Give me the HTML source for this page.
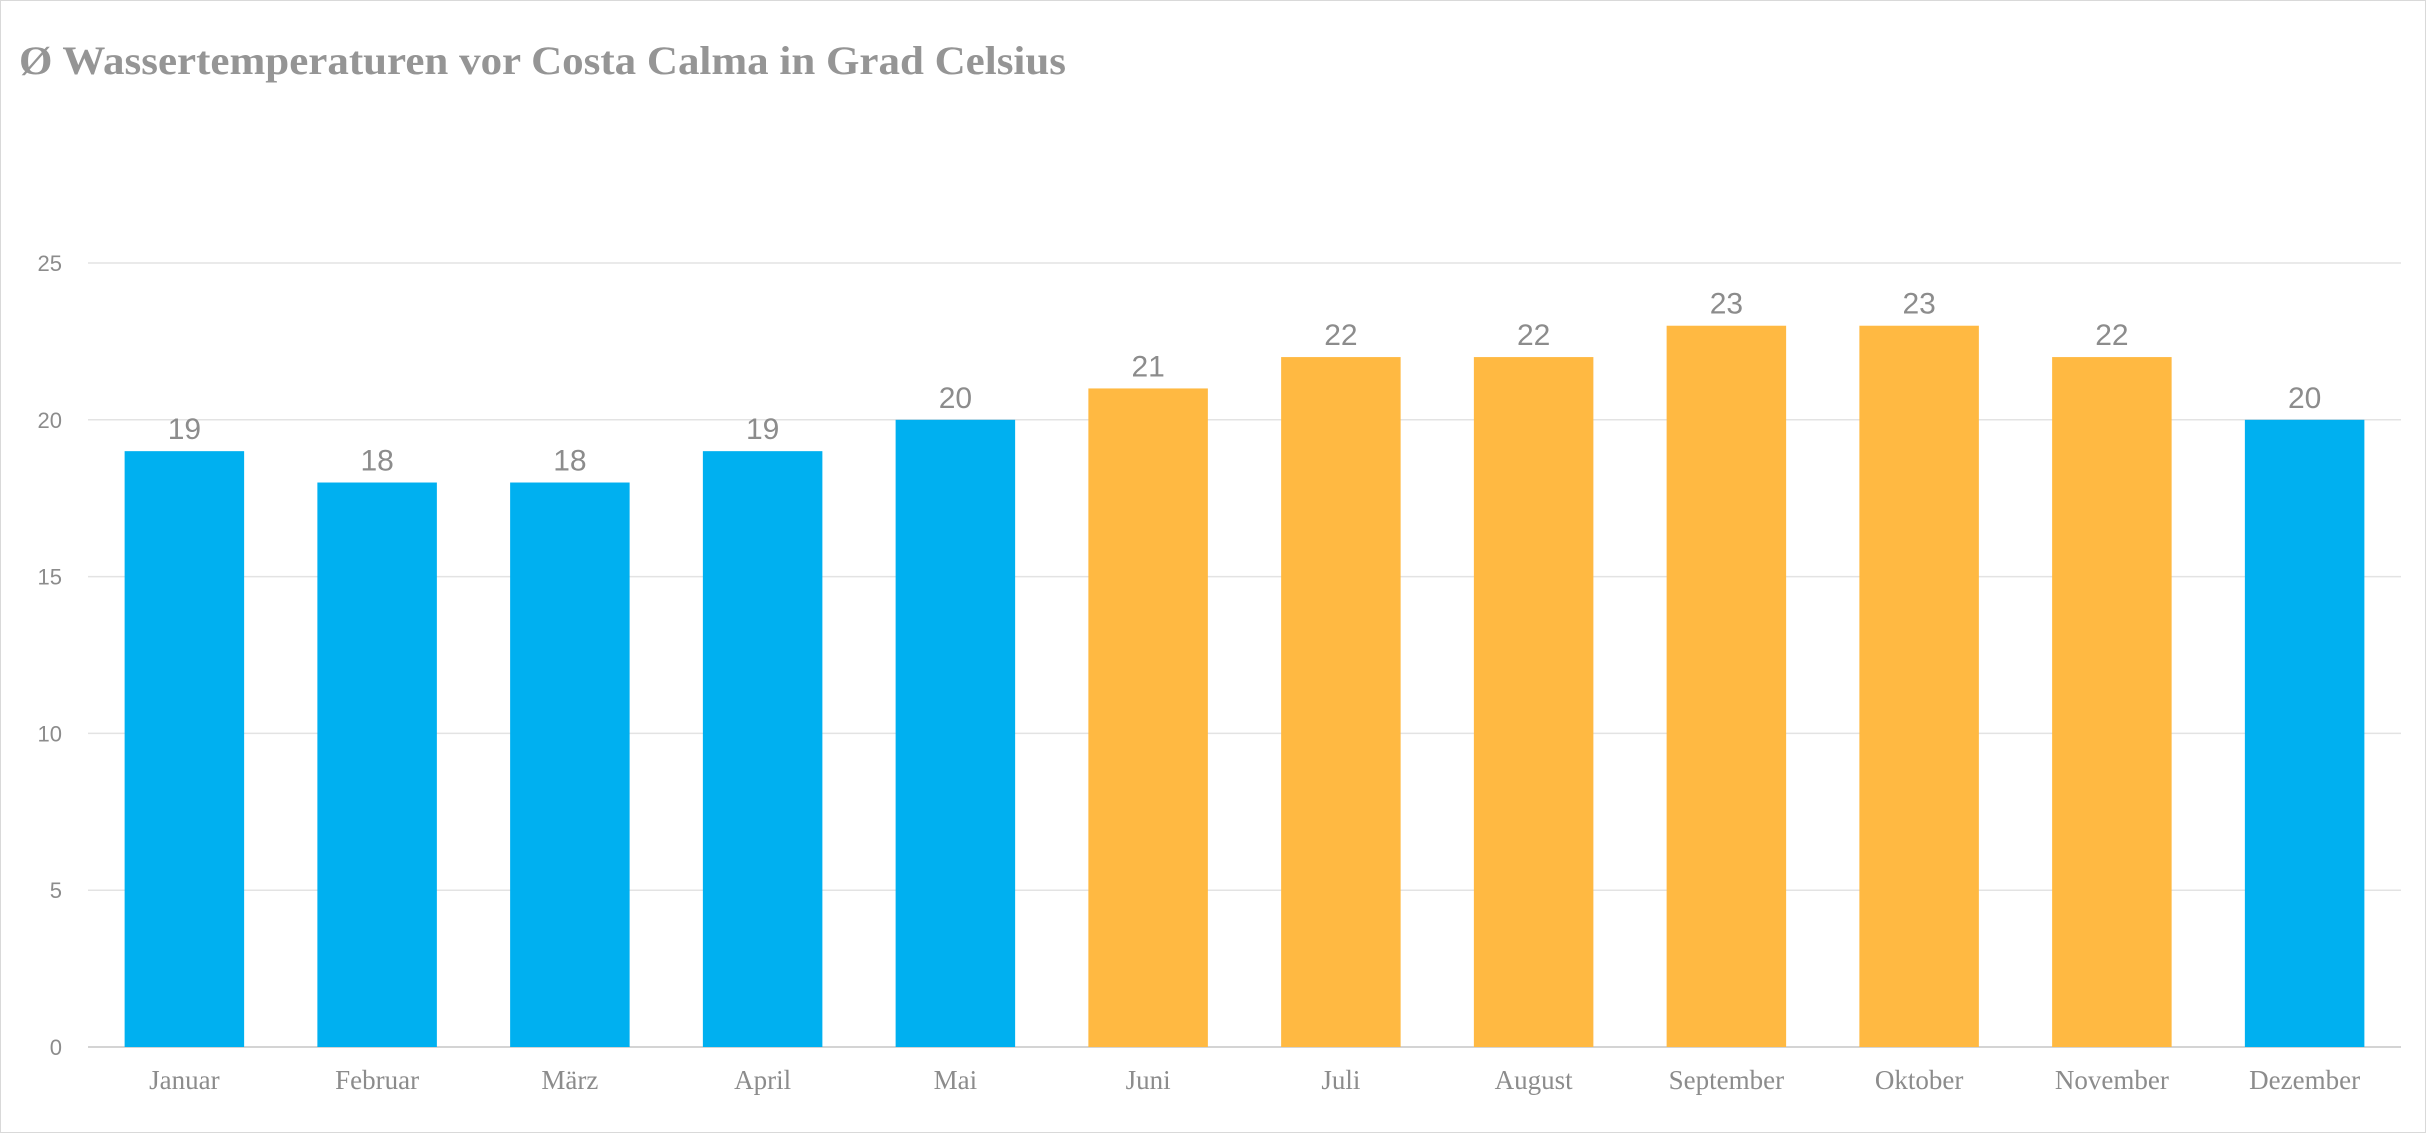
<!DOCTYPE html>
<html><head><meta charset="utf-8"><style>
html,body{margin:0;padding:0;background:#fff;}
svg{display:block;}
</style></head><body>
<svg id="chart" width="2426" height="1133" viewBox="0 0 2426 1133" xmlns="http://www.w3.org/2000/svg">
<rect x="0.5" y="0.5" width="2425" height="1132" fill="#fff" stroke="#d9d9d9"/>
<text x="19" y="74" font-family="'Liberation Serif', serif" font-weight="bold" font-size="40" fill="#959595" textLength="1047" lengthAdjust="spacingAndGlyphs">Ø Wassertemperaturen vor Costa Calma in Grad Celsius</text>
<g id="grid"></g><g id="bars"></g><g id="labels"></g>
</svg>
<script>
const months = ["Januar","Februar","März","April","Mai","Juni","Juli","August","September","Oktober","November","Dezember"];
const temps = [19,18,18,19,20,21,22,22,23,23,22,20];
const warm = [false,false,false,false,false,true,true,true,true,true,true,false];
const yTicks = [0,5,10,15,20,25];
const NS="http://www.w3.org/2000/svg";
const L=88,R=2401,T=263,B=1047,yMax=25;
const y=v=>B-(B-T)*v/yMax;
const bw=(R-L)/months.length;
const x=i=>L+bw*(i+0.5);
function mk(tag,attrs,parent,text){const e=document.createElementNS(NS,tag);for(const k in attrs)e.setAttribute(k,attrs[k]);if(text!==undefined)e.textContent=text;document.getElementById(parent).appendChild(e);return e;}
yTicks.forEach(t=>{
  const ln=mk('line',{x1:L,x2:R,y1:y(t),y2:y(t),stroke:t===0?'#d4d4d4':'#e3e3e3','stroke-width':t===0?2:1.5},'grid');
  
  
  const tx=mk('text',{x:62,y:y(t)+8,'text-anchor':'end','font-family':"'Liberation Sans', sans-serif",'font-size':22,fill:'#8c8c8c'},'labels',String(t));
  
  
});
months.forEach((m,i)=>{
  const w=bw*0.62;
  const r=mk('rect',{x:x(i)-w/2,y:y(temps[i]),width:w,height:B-y(temps[i]),fill:warm[i]?'#ffb942':'#00b0f0'},'bars');
  
  
  const v=mk('text',{x:x(i),y:y(temps[i])-12,'text-anchor':'middle','font-family':"'Liberation Sans', sans-serif",'font-size':30,fill:'#8c8c8c'},'labels',String(temps[i]));
  
  
  const c=mk('text',{x:x(i),y:1089,'text-anchor':'middle','font-family':"'Liberation Serif', serif",'font-size':27,fill:'#8c8c8c'},'labels',m);
  
  
});
</script>
</body></html>
